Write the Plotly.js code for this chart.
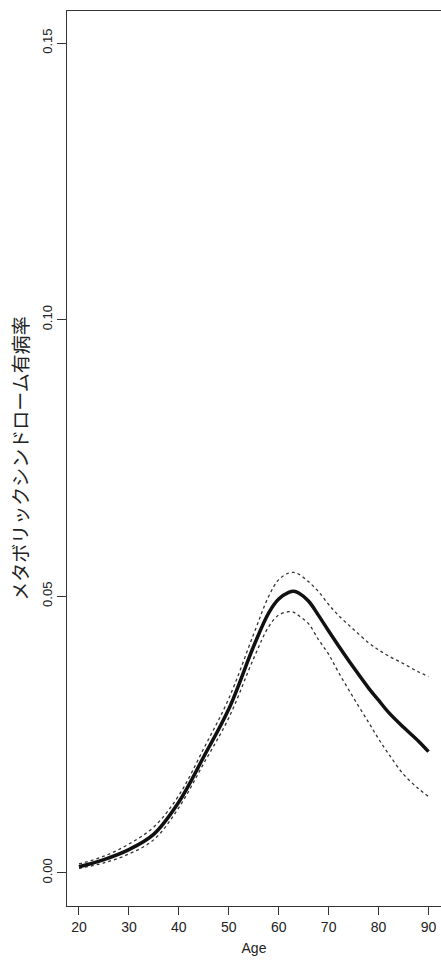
<!DOCTYPE html>
<html>
<head>
<meta charset="utf-8">
<script src="https://cdn.plot.ly/plotly-3.0.1.min.js"></script>
<style>html,body{margin:0;padding:0;overflow:hidden;background:#fff;}</style>
</head>
<body>
<div id="chart" style="width:441px;height:960px;"></div>
<script>
const ages = [20,25,30,35,40,45,50,55,58,60,62,63,64,66,68,70,72,75,78,80,82,85,88,90];
const prevalence = [0.0011,0.0024,0.0042,0.0070,0.0128,0.0210,0.0296,0.0410,0.0470,0.0495,0.0507,0.0509,0.0506,0.0491,0.0465,0.0437,0.0410,0.0371,0.0334,0.0312,0.0290,0.0263,0.0238,0.0219];
const upper = [0.0016,0.0030,0.0052,0.0083,0.0140,0.0225,0.0315,0.0432,0.0500,0.0530,0.0542,0.0543,0.0540,0.0526,0.0508,0.0485,0.0465,0.0440,0.0416,0.0403,0.0392,0.0378,0.0363,0.0355];
const lower = [0.0008,0.0018,0.0034,0.0060,0.0118,0.0198,0.0280,0.0388,0.0445,0.0466,0.0472,0.0471,0.0465,0.0450,0.0421,0.0395,0.0362,0.0316,0.0272,0.0242,0.0215,0.0178,0.0152,0.0138];
const xTicks = [20,30,40,50,60,70,80,90];
const yTicks = [0,0.05,0.10,0.15];
const yTickText = ['0.00','0.05','0.10','0.15'];

const traces = [
  {x: ages, y: upper, mode:'lines', line:{color:'#333', width:1.3, dash:'dot', shape:'spline'}, hoverinfo:'skip'},
  {x: ages, y: lower, mode:'lines', line:{color:'#333', width:1.3, dash:'dot', shape:'spline'}, hoverinfo:'skip'},
  {x: ages, y: prevalence, mode:'lines', line:{color:'#111', width:3.5, shape:'spline'}}
];
const layout = {
  width:441, height:960,
  margin:{l:67, r:0, t:11, b:54},
  showlegend:false,
  paper_bgcolor:'#fff', plot_bgcolor:'#fff',
  font:{family:'"Liberation Sans", Arial, sans-serif', color:'#222'},
  xaxis:{
    range:[17.6,92.5], tickvals:xTicks, ticks:'outside', ticklen:8, tickwidth:1, tickcolor:'#333',
    showline:true, linecolor:'#333', linewidth:1, mirror:true, showgrid:false, zeroline:false,
    tickfont:{size:14, color:'#222'},
    title:{text:'Age', font:{size:14, color:'#222'}, standoff:9}
  },
  yaxis:{
    range:[-0.006,0.1558], tickvals:yTicks, ticktext:yTickText, ticks:'outside', ticklen:9, tickwidth:1, tickcolor:'#333',
    showline:true, linecolor:'#333', linewidth:1, showgrid:false, zeroline:false, tickangle:-90,
    tickfont:{size:13, color:'#222', family:'"Liberation Sans Narrow", "Liberation Sans", Arial, sans-serif'},
    title:{text:'メタボリックシンドローム有病率', font:{size:19, color:'#222', family:'"Noto Sans CJK JP", sans-serif'}, standoff:6}
  }
};
Plotly.newPlot('chart', traces, layout, {displayModeBar:false, staticPlot:true});
</script>
</body>
</html>
